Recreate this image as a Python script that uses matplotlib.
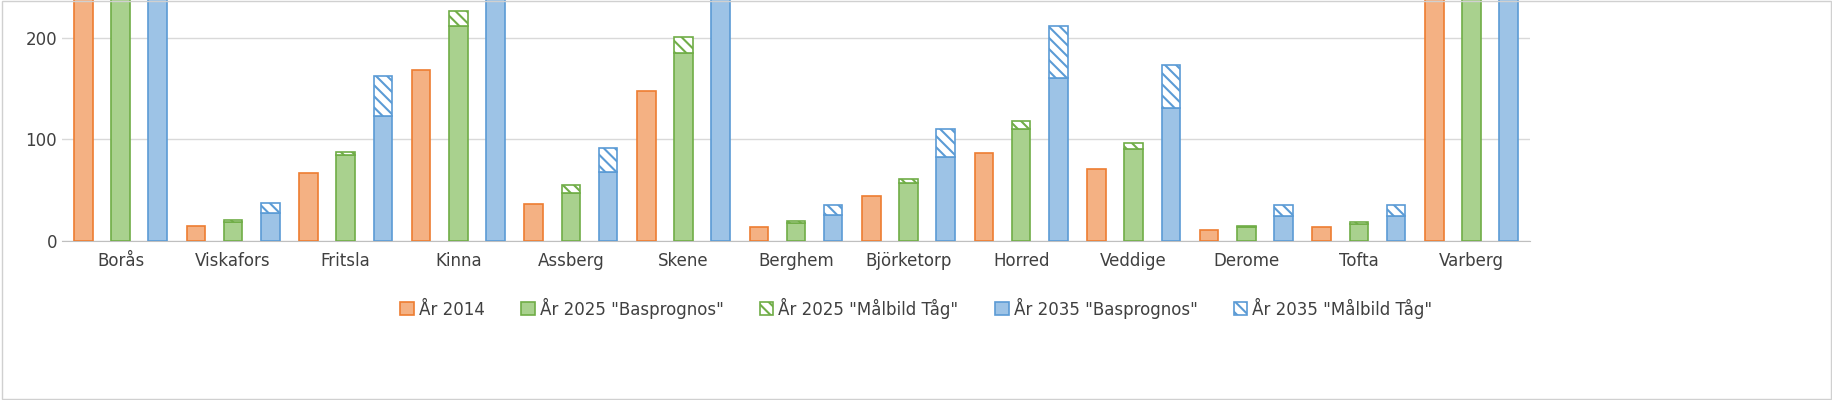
import matplotlib.pyplot as plt
import numpy as np

plt.rcParams['hatch.linewidth'] = 1.5

stations = ["Borås", "Viskafors", "Fritsla", "Kinna", "Assberg", "Skene", "Berghem",
            "Björketorp", "Horred", "Veddige", "Derome", "Tofta", "Varberg"]
y2014 = [420, 15, 67, 168, 36, 148, 14, 44, 87, 71, 11, 14, 420]
y2025_bas = [520, 19, 85, 211, 47, 185, 18, 57, 110, 90, 14, 17, 520]
y2025_mal = [560, 21, 88, 226, 55, 201, 20, 61, 118, 96, 15, 19, 560]
y2035_bas = [700, 28, 123, 300, 68, 300, 26, 83, 160, 131, 25, 25, 700]
y2035_mal = [800, 37, 162, 380, 91, 380, 35, 110, 211, 173, 35, 35, 800]

fig = plt.figure(figsize=(18.33, 4), dpi=100)
ax = fig.add_axes([62/1833, 159/400, (1530-62)/1833, 241/400])
fig.patches.append(plt.Rectangle((0.001, 0.003), 0.998, 0.994, transform=fig.transFigure,
                                 fill=False, edgecolor='#d0d0d0', lw=1))

x = np.arange(len(stations))
w = 0.165
orange, orange_e = '#F4B183', '#ED7D31'
green, green_e = '#A9D18E', '#70AD47'
blue, blue_e = '#9DC3E6', '#5B9BD5'

ax.bar(x - 0.33, y2014, w, color=orange, edgecolor=orange_e, lw=1.2, label='År 2014', zorder=3)
ax.bar(x, y2025_bas, w, color=green, edgecolor=green_e, lw=1.2, label='År 2025 "Basprognos"', zorder=3)
ax.bar(x, np.array(y2025_mal) - np.array(y2025_bas), w, bottom=y2025_bas, color='white',
       edgecolor=green_e, hatch='\\\\\\', lw=1.2, label='År 2025 "Målbild Tåg"', zorder=3)
ax.bar(x + 0.33, y2035_bas, w, color=blue, edgecolor=blue_e, lw=1.2, label='År 2035 "Basprognos"', zorder=3)
ax.bar(x + 0.33, np.array(y2035_mal) - np.array(y2035_bas), w, bottom=y2035_bas, color='white',
       edgecolor=blue_e, hatch='\\\\\\', lw=1.2, label='År 2035 "Målbild Tåg"', zorder=3)

ax.set_ylim(0, 237)
ax.set_xlim(-0.52, len(stations) - 0.48)
ax.set_yticks([0, 100, 200])
ax.set_xticks(x)
ax.set_xticklabels(stations, fontsize=12, color='#404040')
ax.tick_params(axis='y', labelsize=12, colors='#404040', length=0)
ax.tick_params(axis='x', length=0, pad=8)
ax.grid(axis='y', color='#d9d9d9', lw=1, zorder=0)
for s in ['top', 'right', 'left']:
    ax.spines[s].set_visible(False)
ax.spines['bottom'].set_color('#bfbfbf')

fig.legend(loc='center', bbox_to_anchor=(0.5, 0.23), ncol=5, frameon=False, fontsize=12,
           handlelength=0.8, handleheight=0.8, columnspacing=2.2, handletextpad=0.3,
           labelcolor='#404040')

fig.savefig('out.png', dpi=100)
